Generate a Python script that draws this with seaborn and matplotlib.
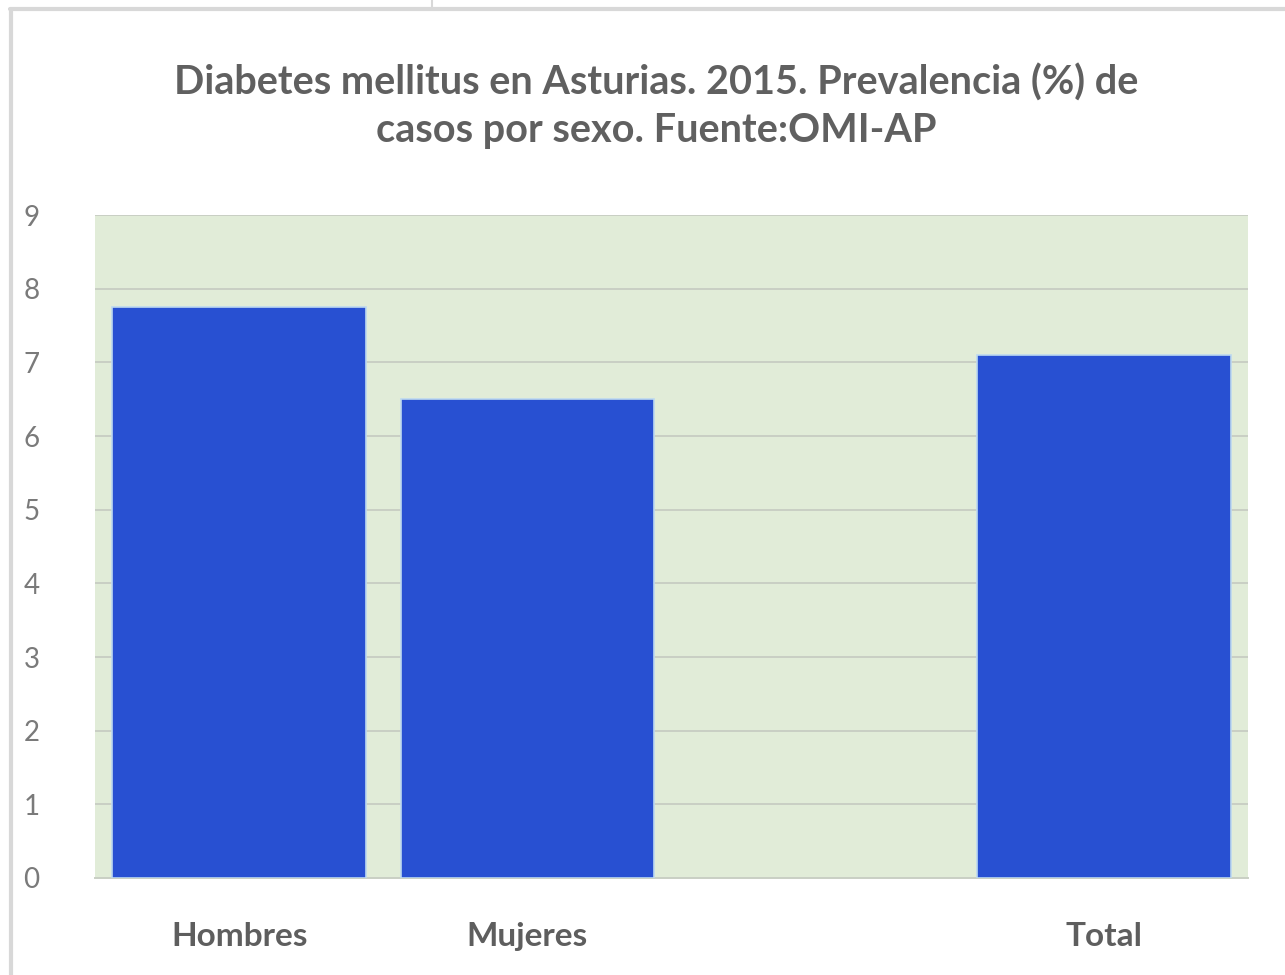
import matplotlib
matplotlib.use("Agg")
import matplotlib.pyplot as plt
from matplotlib.lines import Line2D
import seaborn as sns
import pandas as pd

# Prevalence of diabetes mellitus (%) by sex, Asturias 2015
categories = ["Hombres", "Mujeres", "Total"]
prevalence = [7.75, 6.5, 7.1]
slot_order = ["Hombres", "Mujeres", "", "Total"]
y_ticks = list(range(0, 10))

title = "Diabetes mellitus en Asturias. 2015. Prevalencia (%) de\ncasos por sexo. Fuente:OMI-AP"

sns.set_theme(style="white")
plt.rcParams["font.family"] = ["Lato", "DejaVu Sans"]

df = pd.DataFrame({"grupo": categories, "prevalencia": prevalence})

fig = plt.figure(figsize=(12.85, 9.75), dpi=100)
fig.patch.set_facecolor("white")
ax = fig.add_axes([95 / 1285, 1 - 878 / 975, (1248 - 95) / 1285, (878 - 215) / 975])
ax.set_facecolor("#e1ecd8")

sns.barplot(data=df, x="grupo", y="prevalencia", order=slot_order,
            color="#2850d2", saturation=1, width=0.88,
            edgecolor="#bcd8f0", linewidth=1.2, ax=ax, zorder=3)

ax.set_ylim(0, 9)
ax.set_yticks(y_ticks)
ax.set_yticklabels([str(t) for t in y_ticks], fontsize=20, color="#7a7a7a")
ax.set_xticks(range(len(slot_order)))
ax.set_xticklabels(slot_order, fontsize=24, fontweight="bold", color="#5e5e5e")
ax.tick_params(axis="y", length=0, pad=40)
ax.tick_params(axis="x", length=0, pad=32)
ax.set_xlabel("")
ax.set_ylabel("")

ax.yaxis.grid(True, color="#c9cfc4", linewidth=1.4, zorder=0)
ax.set_axisbelow(True)
for side in ["top", "right", "left"]:
    ax.spines[side].set_visible(False)
ax.spines["bottom"].set_color("#c9cfc4")
ax.spines["bottom"].set_linewidth(1.4)

fig.text(0.511, 0.891, title, ha="center", va="center", fontsize=28.5,
         fontweight="bold", color="#606060", linespacing=1.35)

# Thin page frame around the chart
fig.add_artist(Line2D([10 / 1285, 1.0], [1 - 9 / 975, 1 - 9 / 975],
                      transform=fig.transFigure, color="#d8d8d8", linewidth=3))
fig.add_artist(Line2D([11 / 1285, 11 / 1285], [0, 1 - 9 / 975],
                      transform=fig.transFigure, color="#d8d8d8", linewidth=3))
fig.add_artist(Line2D([432 / 1285, 432 / 1285], [1 - 8 / 975, 1.0],
                      transform=fig.transFigure, color="#d8d8d8", linewidth=1.5))

fig.savefig("out.png", dpi=100)
